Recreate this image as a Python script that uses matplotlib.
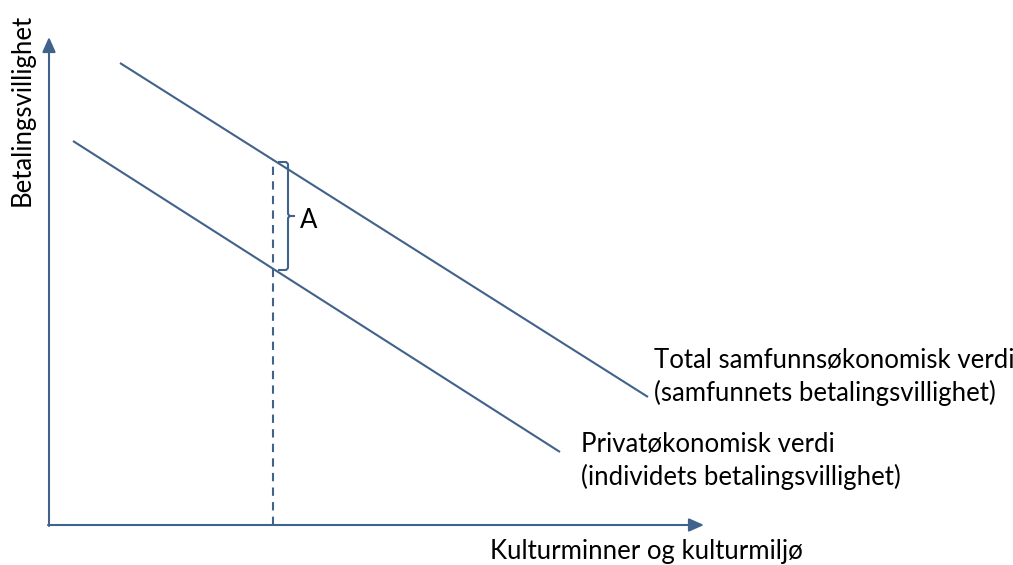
import matplotlib
matplotlib.use("Agg")
import matplotlib.pyplot as plt
from matplotlib.path import Path
from matplotlib.patches import PathPatch

plt.rcParams['font.family'] = ['Lato', 'DejaVu Sans']

# Data (pixel-like coordinate space, y grows downward)
total_x = [120, 648]
total_y = [63, 397]
private_x = [73, 560]
private_y = [141, 452]
qty_x = 273
brace_top, brace_bot, brace_x = 162, 270, 288

color = '#41628A'

fig = plt.figure(figsize=(10.13, 5.65), dpi=100)
ax = fig.add_axes([0, 0, 1, 1])
ax.set_xlim(0, 1013)
ax.set_ylim(565, 0)
ax.axis('off')

# axes arrows
ax.annotate('', xy=(49, 37), xytext=(49, 526),
            arrowprops=dict(arrowstyle='-|>,head_length=0.9,head_width=0.4', color=color, lw=1.5, shrinkA=0, shrinkB=0))
ax.annotate('', xy=(704, 525), xytext=(48, 525),
            arrowprops=dict(arrowstyle='-|>,head_length=0.9,head_width=0.4', color=color, lw=1.5, shrinkA=0, shrinkB=0))

# demand lines
ax.plot(total_x, total_y, color=color, lw=1.5, solid_capstyle='butt')
ax.plot(private_x, private_y, color=color, lw=1.5, solid_capstyle='butt')

# dashed vertical
top_y = total_y[0] + (qty_x - total_x[0]) * (total_y[1] - total_y[0]) / (total_x[1] - total_x[0])
ax.plot([qty_x, qty_x], [525, top_y], color=color, lw=1.5, ls=(0, (4, 3)))

# brace
mid = (brace_top + brace_bot) / 2
r = 3
verts = [(brace_x - 10, brace_top), (brace_x - r, brace_top), (brace_x, brace_top), (brace_x, brace_top + r),
         (brace_x, mid - r), (brace_x, mid), (brace_x + r, mid), (brace_x + 7, mid),
         (brace_x + r, mid), (brace_x, mid), (brace_x, mid + r),
         (brace_x, brace_bot - r), (brace_x, brace_bot), (brace_x - r, brace_bot), (brace_x - 10, brace_bot)]
codes = [Path.MOVETO, Path.LINETO, Path.CURVE3, Path.CURVE3,
         Path.LINETO, Path.CURVE3, Path.CURVE3, Path.LINETO,
         Path.MOVETO, Path.CURVE3, Path.CURVE3,
         Path.LINETO, Path.CURVE3, Path.CURVE3, Path.LINETO]
ax.add_patch(PathPatch(Path(verts, codes), fill=False, edgecolor=color, lw=1.5))

fs = 18.5
ax.text(300, 220, 'A', fontsize=fs, va='center', ha='left', color='black')
ax.text(654, 377, 'Total samfunnsøkonomisk verdi\n(samfunnets betalingsvillighet)',
        fontsize=fs, va='center', ha='left', linespacing=1.35)
ax.text(581, 461, 'Privatøkonomisk verdi\n(individets betalingsvillighet)',
        fontsize=fs, va='center', ha='left', linespacing=1.35)
ax.text(646, 551, 'Kulturminner og kulturmiljø', fontsize=fs, va='center', ha='center')
ax.text(22, 110, 'Betalingsvillighet', fontsize=fs, va='center', ha='center', rotation=90)

fig.savefig('out.png', dpi=100)
